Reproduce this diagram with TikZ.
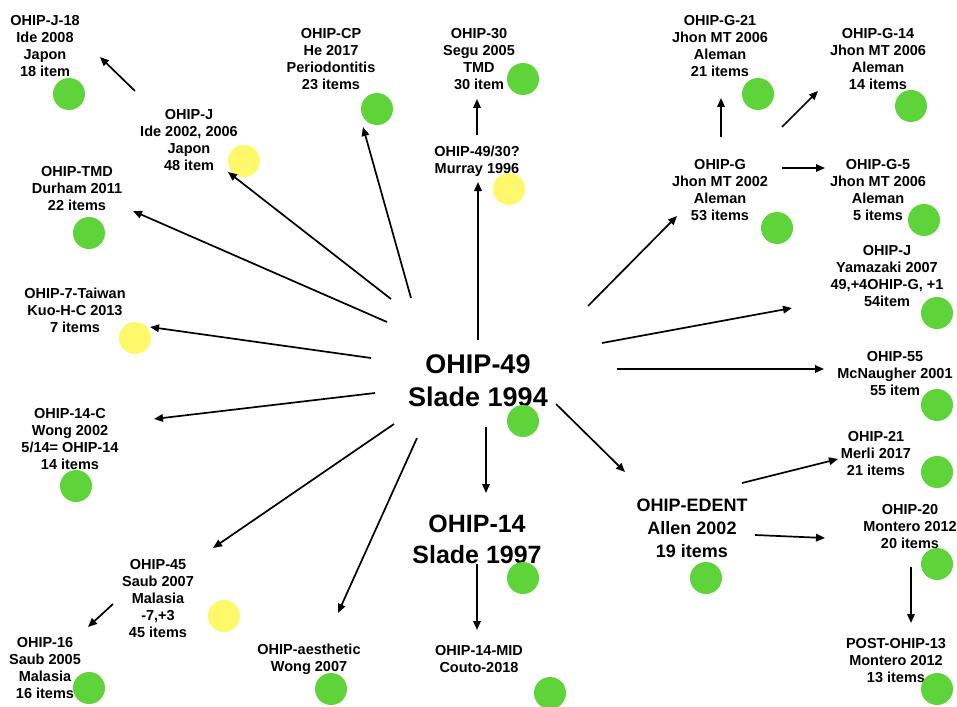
\documentclass[tikz,border=0pt]{standalone}
\usepackage{fontspec}
\setmainfont{Liberation Sans}
\usetikzlibrary{arrows.meta}
\definecolor{dotgreen}{RGB}{94,212,58}
\definecolor{dotyellow}{RGB}{255,248,107}
\begin{document}
\begin{tikzpicture}[x=1pt,y=-1pt,
  lbl/.style={align=center, inner sep=0pt, font=\fontsize{14.5}{17}\selectfont\bfseries},
  midlbl/.style={align=center, inner sep=0pt, font=\fontsize{18}{23}\selectfont\bfseries},
  biglbl/.style={align=center, inner sep=0pt, font=\fontsize{27}{33}\selectfont\bfseries},
  bighalf/.style={align=center, inner sep=0pt, font=\fontsize{25}{31}\selectfont\bfseries},
  gdot/.style={circle, fill=dotgreen, minimum size=32pt, inner sep=0pt},
  ydot/.style={circle, fill=dotyellow, minimum size=32pt, inner sep=0pt},
  arr/.style={-{Triangle[length=9pt,width=7.5pt]}, line width=1.7pt},
]
\fill[white] (0,0) rectangle (957,706);
\useasboundingbox (0,0) rectangle (957,706);

% ---- instrument labels ----
\node[biglbl] (o49) at (478,381) {OHIP-49\\Slade 1994};
\node[bighalf] (o14) at (477,539) {OHIP-14\\Slade 1997};
\node[midlbl] (edent) at (692,528) {OHIP-EDENT\\Allen 2002\\19 items};

\node[lbl] (j18) at (45,46) {OHIP-J-18\\Ide 2008\\Japon\\18 item};
\node[lbl] (j) at (189,140) {OHIP-J\\Ide 2002, 2006\\Japon\\48 item};
\node[lbl] (tmd) at (77,189) {OHIP-TMD\\Durham 2011\\22 items};
\node[lbl] (cp) at (331,59) {OHIP-CP\\He 2017\\Periodontitis\\23 items};
\node[lbl] (o30) at (479,59) {OHIP-30\\Segu 2005\\TMD\\30 item};
\node[lbl] (o4930) at (477,161) {OHIP-49/30?\\Murray 1996};
\node[lbl] (g21) at (720,46) {OHIP-G-21\\Jhon MT 2006\\Aleman\\21 items};
\node[lbl] (g14) at (878,59) {OHIP-G-14\\Jhon MT 2006\\Aleman\\14 items};
\node[lbl] (g) at (720,190) {OHIP-G\\Jhon MT 2002\\Aleman\\53 items};
\node[lbl] (g5) at (878,190) {OHIP-G-5\\Jhon MT 2006\\Aleman\\5 items};
\node[lbl] (jy) at (887,276) {OHIP-J\\Yamazaki 2007\\49,+4OHIP-G, +1\\54item};
\node[lbl] (o55) at (895,374) {OHIP-55\\McNaugher 2001\\55 item};
\node[lbl] (o21) at (876,454) {OHIP-21\\Merli 2017\\21 items};
\node[lbl] (o20) at (910,527) {OHIP-20\\Montero 2012\\20 items};
\node[lbl] (post13) at (896,661) {POST-OHIP-13\\Montero 2012\\13 items};
\node[lbl] (mid) at (479,659) {OHIP-14-MID\\Couto-2018};
\node[lbl] (aes) at (309,659) {OHIP-aesthetic\\Wong 2007};
\node[lbl] (o45) at (158,598) {OHIP-45\\Saub 2007\\Malasia\\-7,+3\\45 items};
\node[lbl] (o16) at (45,668) {OHIP-16\\Saub 2005\\Malasia\\16 items};
\node[lbl] (o14c) at (70,439) {OHIP-14-C\\Wong 2002\\5/14= OHIP-14\\14 items};
\node[lbl] (tw) at (75,310) {OHIP-7-Taiwan\\Kuo-H-C 2013\\7 items};

% ---- status dots ----
\node[gdot] (j18-d) at (69,94) {};
\node[ydot] (j-d) at (244,161) {};
\node[gdot] (tmd-d) at (89,233) {};
\node[gdot] (cp-d) at (377,109) {};
\node[gdot] (o30-d) at (523,79) {};
\node[ydot] (o4930-d) at (509,189) {};
\node[gdot] (g21-d) at (758,94) {};
\node[gdot] (g14-d) at (911,106) {};
\node[gdot] (g-d) at (777,228) {};
\node[gdot] (g5-d) at (924,220) {};
\node[gdot] (jy-d) at (937,313) {};
\node[gdot] (o55-d) at (937,405) {};
\node[gdot] (o21-d) at (937,472) {};
\node[gdot] (o20-d) at (937,564) {};
\node[gdot] (post13-d) at (937,689) {};
\node[gdot] (edent-d) at (706,578) {};
\node[gdot] (o14-d) at (523,578) {};
\node[gdot] (mid-d) at (550,693) {};
\node[gdot] (aes-d) at (331,689) {};
\node[ydot] (o45-d) at (224,616) {};
\node[gdot] (o16-d) at (89,688) {};
\node[gdot] (o14c-d) at (76,486) {};
\node[ydot] (tw-d) at (135,338) {};
\node[gdot] (o49-d) at (523,421) {};

% ---- connector ends ----
\coordinate (j-out-j18) at (135,91);   \coordinate (j18-in) at (100,57);
\coordinate (o49-out-j) at (391,299);  \coordinate (j-in) at (228,172);
\coordinate (o49-out-cp) at (411,298); \coordinate (cp-in) at (363,127);
\coordinate (o49-out-tmd) at (387,322);\coordinate (tmd-in) at (133,211);
\coordinate (o49-out-tw) at (371,358); \coordinate (tw-in) at (150,327);
\coordinate (o49-out-c) at (375,393);  \coordinate (o14c-in) at (154,419);
\coordinate (o49-out-45) at (394,424); \coordinate (o45-in) at (213,548);
\coordinate (o49-out-aes) at (417,438);\coordinate (aes-in) at (338,613);
\coordinate (o49-out-14) at (486,427); \coordinate (o14-in) at (486,493);
\coordinate (o14-out) at (477,564);    \coordinate (mid-in) at (477,630);
\coordinate (o49-out-ed) at (556,404); \coordinate (edent-in) at (625,472);
\coordinate (o49-out-55) at (617,369); \coordinate (o55-in) at (824,369);
\coordinate (o49-out-jy) at (602,343); \coordinate (jy-in) at (792,308);
\coordinate (o49-out-g) at (588,306);  \coordinate (g-in) at (677,216);
\coordinate (o49-out-up) at (478,340); \coordinate (o4930-in) at (478,182);
\coordinate (o4930-out) at (477,135);  \coordinate (o30-in) at (477,99);
\coordinate (g-out-21) at (721,137);   \coordinate (g21-in) at (721,98);
\coordinate (g-out-14) at (782,127);   \coordinate (g14-in) at (818,91);
\coordinate (g-out-5) at (782,168);    \coordinate (g5-in) at (825,168);
\coordinate (ed-out-21) at (742,483);  \coordinate (o21-in) at (838,459);
\coordinate (ed-out-20) at (755,535);  \coordinate (o20-in) at (825,538);
\coordinate (o20-out) at (911,567);    \coordinate (post13-in) at (911,623);
\coordinate (o45-out) at (113,604);    \coordinate (o16-in) at (88,627);

% ---- derivation arrows ----
\draw[arr] (j-out-j18) -- (j18-in);
\draw[arr] (o49-out-j) -- (j-in);
\draw[arr] (o49-out-cp) -- (cp-in);
\draw[arr] (o49-out-tmd) -- (tmd-in);
\draw[arr] (o49-out-tw) -- (tw-in);
\draw[arr] (o49-out-c) -- (o14c-in);
\draw[arr] (o49-out-45) -- (o45-in);
\draw[arr] (o49-out-aes) -- (aes-in);
\draw[arr] (o49-out-14) -- (o14-in);
\draw[arr] (o14-out) -- (mid-in);
\draw[arr] (o49-out-ed) -- (edent-in);
\draw[arr] (o49-out-55) -- (o55-in);
\draw[arr] (o49-out-jy) -- (jy-in);
\draw[arr] (o49-out-g) -- (g-in);
\draw[arr] (o49-out-up) -- (o4930-in);
\draw[arr] (o4930-out) -- (o30-in);
\draw[arr] (g-out-21) -- (g21-in);
\draw[arr] (g-out-14) -- (g14-in);
\draw[arr] (g-out-5) -- (g5-in);
\draw[arr] (ed-out-21) -- (o21-in);
\draw[arr] (ed-out-20) -- (o20-in);
\draw[arr] (o20-out) -- (post13-in);
\draw[arr] (o45-out) -- (o16-in);
\end{tikzpicture}
\end{document}
